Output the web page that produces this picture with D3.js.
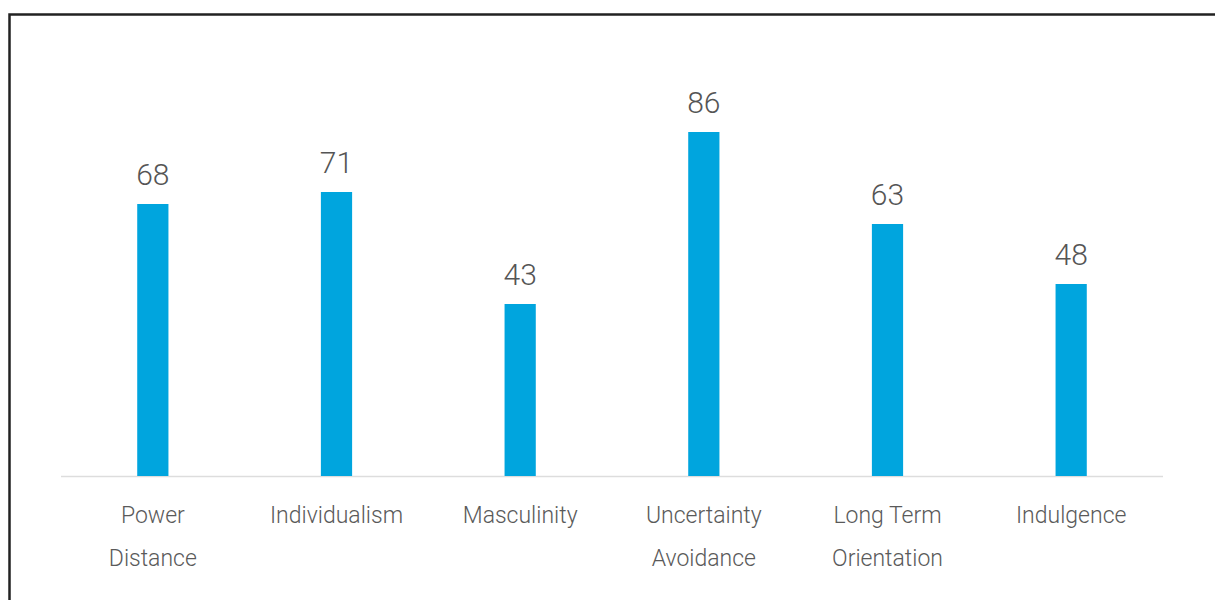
<!DOCTYPE html>
<html>
<head>
<meta charset="utf-8">
<script src="https://cdn.jsdelivr.net/npm/d3@7"></script>
<style>
  body { margin: 0; background: #fff; }
  text { font-family: Roboto, "Liberation Sans", sans-serif; fill: #555; }
</style>
</head>
<body>
<div id="plot"></div>
<script>
// dimensions
var width = 1215, height = 600;
var margin = {left: 61, right: 52, top: 76, bottom: 124};

// data
var categories = ["Power Distance", "Individualism", "Masculinity", "Uncertainty Avoidance", "Long Term Orientation", "Indulgence"];
var labelLines = [["Power", "Distance"], ["Individualism"], ["Masculinity"], ["Uncertainty", "Avoidance"], ["Long Term", "Orientation"], ["Indulgence"]];
var scores = [68, 71, 43, 86, 63, 48];

var svg = d3.select("div#plot")
  .append("svg")
    .attr("width", width)
    .attr("height", height);

// frame (top and left edges)
svg.append("path")
  .attr("d", "M9.5," + height + "V14.5H" + width)
  .attr("fill", "none")
  .attr("stroke", "#222")
  .attr("stroke-width", 2.5);

var x = d3.scaleBand()
  .domain(categories)
  .range([margin.left, width - margin.right])
  .paddingInner(0.83)
  .paddingOuter(0.415);

var y = d3.scaleLinear()
  .domain([0, 100])
  .range([height - margin.bottom, margin.top]);

// baseline
svg.append("line")
  .attr("x1", margin.left)
  .attr("x2", width - margin.right)
  .attr("y1", y(0) + 0.5)
  .attr("y2", y(0) + 0.5)
  .attr("stroke", "#ddd")
  .attr("stroke-width", 1.5);

// bars
svg.selectAll("rect.bar")
  .data(scores)
  .enter()
  .append("rect")
    .attr("class", "bar")
    .attr("x", (d, i) => x(categories[i]))
    .attr("y", d => y(d))
    .attr("width", x.bandwidth())
    .attr("height", d => y(0) - y(d))
    .attr("fill", "#00a5de");

// value labels
svg.selectAll("text.value")
  .data(scores)
  .enter()
  .append("text")
    .attr("class", "value")
    .attr("x", (d, i) => x(categories[i]) + x.bandwidth() / 2)
    .attr("y", d => y(d) - 19)
    .attr("text-anchor", "middle")
    .style("font-size", "30px")
    .style("font-weight", 300)
    .text(d => d);

// category labels
var cat = svg.selectAll("text.cat")
  .data(labelLines)
  .enter()
  .append("text")
    .attr("class", "cat")
    .attr("text-anchor", "middle")
    .attr("transform", (d, i) => "translate(" + (x(categories[i]) + x.bandwidth() / 2) + "," + (y(0) + 47) + ")")
    .style("font-size", "23px")
    .style("font-weight", 300)
    .style("fill", "#5a5a5a");

cat.selectAll("tspan")
  .data(d => d)
  .enter()
  .append("tspan")
    .attr("x", 0)
    .attr("y", (d, i) => i * 43)
    .text(d => d);
</script>
</body>
</html>
